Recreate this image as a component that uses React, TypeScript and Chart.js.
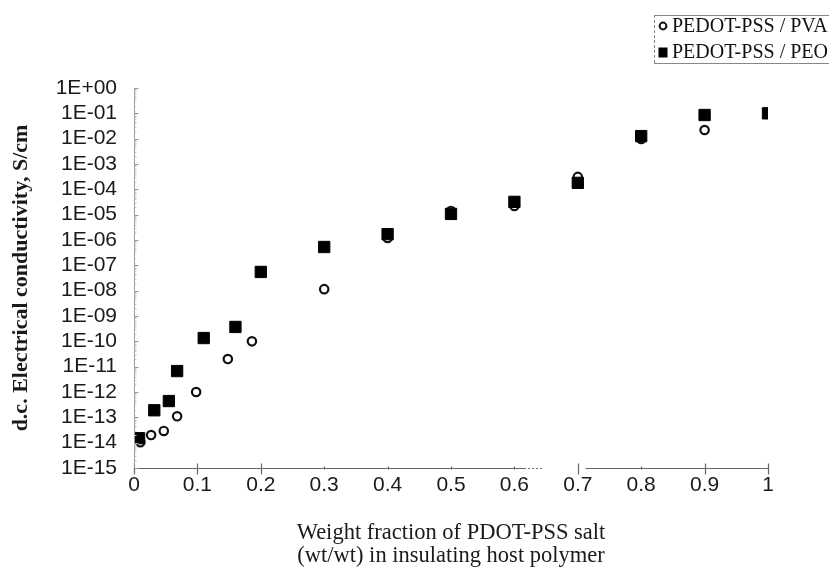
import { useEffect, useRef } from 'react';
import { Chart, registerables } from 'chart.js';

Chart.register(...registerables);

// ---- data ----
const pvaLabel = 'PEDOT-PSS / PVA';
const pvaFraction = [0.01, 0.027, 0.047, 0.068, 0.098, 0.148, 0.186, 0.3, 0.4, 0.5, 0.6, 0.7, 0.8, 0.9];
const pvaConductivity = [1.05e-14, 2e-14, 2.9e-14, 1.1e-13, 1e-12, 2e-11, 1e-10, 1.15e-8, 1.2e-6, 1.4e-5, 2.2e-5, 3.1e-4, 9.7e-3, 2.2e-2];

const peoLabel = 'PEDOT-PSS / PEO';
const peoFraction = [0.008, 0.032, 0.055, 0.068, 0.11, 0.16, 0.2, 0.3, 0.4, 0.5, 0.6, 0.7, 0.8, 0.9, 1.0];
const peoConductivity = [1.5e-14, 1.9e-13, 4.4e-13, 6.7e-12, 1.35e-10, 3.7e-10, 5.5e-8, 5.3e-7, 1.7e-6, 1.07e-5, 3.2e-5, 1.8e-4, 1.26e-2, 8.6e-2, 1.0e-1];

const yTickValues = [1, 1e-1, 1e-2, 1e-3, 1e-4, 1e-5, 1e-6, 1e-7, 1e-8, 1e-9, 1e-10, 1e-11, 1e-12, 1e-13, 1e-14, 1e-15];
const yTickLabels = ['1E+00', '1E-01', '1E-02', '1E-03', '1E-04', '1E-05', '1E-06', '1E-07', '1E-08', '1E-09', '1E-10', '1E-11', '1E-12', '1E-13', '1E-14', '1E-15'];
const xTickLabels = ['0', '0.1', '0.2', '0.3', '0.4', '0.5', '0.6', '0.7', '0.8', '0.9', '1'];
const xTitle = ['Weight fraction of PDOT-PSS salt', '(wt/wt) in insulating host polymer'];
const yTitle = 'd.c. Electrical conductivity, S/cm';

const SANS = "'Liberation Sans', Arial, sans-serif";
const SERIF = "'Liberation Serif', 'Times New Roman', serif";

// draws the axis lines (with the break in x), inward tick marks and the boxed legend
const paperAxes = {
  id: 'paperAxes',
  afterDraw(chart: any) {
    const { ctx, chartArea } = chart;
    const xs = chart.scales.x;
    const ys = chart.scales.y;
    const yAxis = chartArea.bottom + 0.5;
    const xAxis = Math.round(chartArea.left) + 0.5;
    ctx.save();
    // x axis with break
    ctx.strokeStyle = '#666';
    ctx.lineWidth = 1.2;
    ctx.beginPath();
    ctx.moveTo(xs.getPixelForValue(0), yAxis);
    ctx.lineTo(xs.getPixelForValue(0.615), yAxis);
    ctx.moveTo(xs.getPixelForValue(0.712), yAxis);
    ctx.lineTo(xs.getPixelForValue(1), yAxis);
    ctx.stroke();
    ctx.setLineDash([2, 2]);
    ctx.beginPath();
    ctx.moveTo(xs.getPixelForValue(0.615), yAxis);
    ctx.lineTo(xs.getPixelForValue(0.645), yAxis);
    ctx.stroke();
    ctx.setLineDash([]);
    // x ticks
    xs.ticks.forEach((t: any) => {
      const px = Math.round(xs.getPixelForValue(t.value)) + 0.5;
      const strong = [0, 0.1, 0.2, 0.7, 0.9, 1].some((v) => Math.abs(v - t.value) < 1e-6);
      ctx.beginPath();
      if (strong) {
        ctx.moveTo(px, yAxis - 5);
        ctx.lineTo(px, yAxis + 6);
      } else {
        ctx.moveTo(px, yAxis - 2);
        ctx.lineTo(px, yAxis + 1);
      }
      ctx.stroke();
    });
    // y axis
    ctx.strokeStyle = '#9a9a9a';
    ctx.lineWidth = 1;
    ctx.beginPath();
    ctx.moveTo(xAxis, chartArea.bottom);
    ctx.lineTo(xAxis, chartArea.top);
    ctx.stroke();
    ys.ticks.forEach((t: any) => {
      const py = Math.round(ys.getPixelForValue(t.value)) + 0.5;
      ctx.beginPath();
      ctx.moveTo(xAxis, py);
      ctx.lineTo(xAxis + 4, py);
      ctx.stroke();
      ctx.strokeStyle = '#c4c4c4';
      for (let m = 2; m <= 9; m++) {
        const v = t.value * m;
        if (v >= ys.max) continue;
        const pm = Math.round(ys.getPixelForValue(v)) + 0.5;
        ctx.beginPath();
        ctx.moveTo(xAxis, pm);
        ctx.lineTo(xAxis + 2, pm);
        ctx.stroke();
      }
      ctx.strokeStyle = '#9a9a9a';
    });
    // legend box
    const bx = 654;
    const by = 15;
    const bh = 48;
    ctx.strokeStyle = '#888';
    ctx.lineWidth = 1;
    ctx.beginPath();
    ctx.moveTo(bx, by + 0.5);
    ctx.lineTo(chart.width, by + 0.5);
    ctx.moveTo(bx, by + bh + 0.5);
    ctx.lineTo(chart.width, by + bh + 0.5);
    ctx.stroke();
    ctx.setLineDash([3, 2]);
    ctx.beginPath();
    ctx.moveTo(bx + 0.5, by);
    ctx.lineTo(bx + 0.5, by + bh);
    ctx.stroke();
    ctx.setLineDash([]);
    ctx.font = `20px ${SERIF}`;
    ctx.textBaseline = 'middle';
    ctx.textAlign = 'left';
    chart.data.datasets.forEach((ds: any, i: number) => {
      const cy = by + 11 + i * 26;
      const mx = 663;
      if (ds.pointStyle === 'circle') {
        ctx.beginPath();
        ctx.arc(mx, cy, 3.4, 0, Math.PI * 2);
        ctx.fillStyle = '#fff';
        ctx.fill();
        ctx.lineWidth = 2;
        ctx.strokeStyle = '#111';
        ctx.stroke();
      } else {
        ctx.fillStyle = '#000';
        ctx.fillRect(mx - 4.5, cy - 4.5, 9, 10);
      }
      ctx.fillStyle = '#111';
      ctx.fillText(ds.label, 672, cy + 1);
    });
    ctx.restore();
  },
};

export default function App() {
  const canvasRef = useRef<HTMLCanvasElement | null>(null);

  useEffect(() => {
    const canvas = canvasRef.current;
    if (!canvas) return;
    const chart = new Chart(canvas, {
      type: 'scatter',
      data: {
        datasets: [
          {
            label: pvaLabel,
            data: pvaFraction.map((x, i) => ({ x, y: pvaConductivity[i] })),
            pointStyle: 'circle',
            pointRadius: 4.2,
            pointBorderWidth: 2.2,
            pointBorderColor: '#111',
            pointBackgroundColor: '#fff',
            order: 1,
          },
          {
            label: peoLabel,
            data: peoFraction.map((x, i) => ({ x, y: peoConductivity[i] })),
            pointStyle: 'rect',
            pointRadius: 8,
            pointBorderWidth: 1,
            pointBorderColor: '#000',
            pointBackgroundColor: '#000',
            order: 0,
          },
        ],
      },
      options: {
        responsive: false,
        animation: false,
        devicePixelRatio: 1,
        layout: { padding: { left: 0, right: 61, top: 88, bottom: 0 } },
        plugins: {
          legend: { display: false },
          tooltip: { enabled: false },
        },
        events: [],
        scales: {
          x: {
            type: 'linear',
            min: 0,
            max: 1,
            grid: { display: false, drawTicks: false },
            border: { display: false },
            ticks: {
              stepSize: 0.1,
              padding: 5,
              color: '#1a1a1a',
              font: { family: SANS, size: 21, lineHeight: 1.2 },
              callback: (_v: any, i: number) => xTickLabels[i],
              maxRotation: 0,
              autoSkip: false,
            },
            title: {
              display: true,
              text: xTitle,
              color: '#1a1a1a',
              font: { family: SERIF, size: 22.5, lineHeight: 1.0 },
              padding: { top: 0, bottom: 4 },
            },
            afterFit: (s: any) => {
              s.height = 103;
            },
          },
          y: {
            type: 'logarithmic',
            min: 1e-15,
            max: 1,
            grid: { display: false, drawTicks: false },
            border: { display: false },
            afterBuildTicks: (s: any) => {
              s.ticks = [...yTickValues].reverse().map((v) => ({ value: v }));
            },
            ticks: {
              padding: 17,
              color: '#1a1a1a',
              autoSkip: false,
              font: { family: SANS, size: 21, lineHeight: 1.2 },
              callback: (v: any) => yTickLabels[yTickValues.indexOf(v)],
            },
            title: {
              display: true,
              text: yTitle,
              color: '#1a1a1a',
              font: { family: SERIF, size: 22, weight: 'bold', lineHeight: 1.2 },
              padding: { top: 8, bottom: 0 },
            },
            afterFit: (s: any) => {
              s.width = 134;
            },
          },
        },
      },
      plugins: [paperAxes],
    });
    return () => chart.destroy();
  }, []);

  return (
    <div style={{ position: 'absolute', left: 0, top: 0, width: 829, height: 571, background: '#fff' }}>
      <canvas ref={canvasRef} width={829} height={571} style={{ display: 'block' }} />
    </div>
  );
}
